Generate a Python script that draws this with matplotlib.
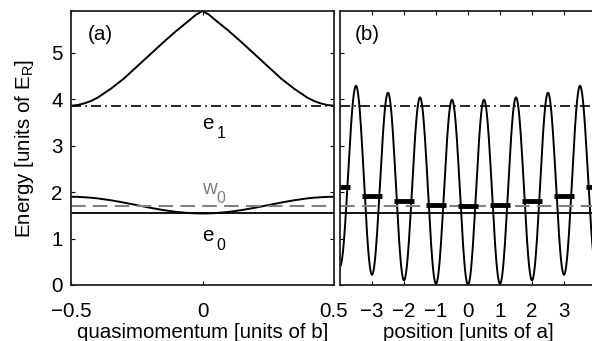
import matplotlib
matplotlib.use('Agg')
import matplotlib.pyplot as plt
import numpy as np

plt.rcParams['font.family'] = ['Liberation Sans', 'DejaVu Sans']
plt.rcParams['mathtext.fontset'] = 'custom'
plt.rcParams['mathtext.rm'] = 'Liberation Sans'
plt.rcParams['mathtext.it'] = 'Liberation Sans'
plt.rcParams['font.size'] = 14.8

# (a) band structure
q = [-0.5, -0.475, -0.45, -0.425, -0.4, -0.35, -0.3, -0.25, -0.2, -0.15, -0.1, -0.05, -0.025, 0.0,
     0.025, 0.05, 0.1, 0.15, 0.2, 0.25, 0.3, 0.35, 0.4, 0.425, 0.45, 0.475, 0.5]
band1 = [1.90, 1.898, 1.89, 1.88, 1.866, 1.826, 1.776, 1.72, 1.664, 1.614, 1.574, 1.549, 1.542, 1.54,
         1.542, 1.549, 1.574, 1.614, 1.664, 1.72, 1.776, 1.826, 1.866, 1.88, 1.89, 1.898, 1.90]
band2 = [3.86, 3.875, 3.91, 3.96, 4.03, 4.22, 4.44, 4.70, 4.96, 5.22, 5.47, 5.70, 5.82, 5.90,
         5.82, 5.70, 5.47, 5.22, 4.96, 4.70, 4.44, 4.22, 4.03, 3.96, 3.91, 3.875, 3.86]
e0 = 1.545
e1 = 3.86
w0 = 1.71

# (b) lattice potential extrema (wells at integers, barriers at half integers)
ext_x = [-4, -3.5, -3, -2.5, -2, -1.5, -1, -0.5, 0, 0.5, 1, 1.5, 2, 2.5, 3, 3.5, 4]
ext_v = [0.40, 4.29, 0.22, 4.14, 0.10, 4.04, 0.025, 3.99, 0.0, 3.99, 0.025, 4.04,
         0.10, 4.14, 0.22, 4.29, 0.40]
sites = [-4, -3, -2, -1, 0, 1, 2, 3, 4]
site_e = [2.10, 1.925, 1.80, 1.725, 1.70, 1.725, 1.80, 1.925, 2.10]
seg_half = 0.3

gray = '#808080'
dd = (6, 2.5, 1, 2.5)

fig = plt.figure(figsize=(5.92, 3.41), dpi=100)
W, H = 592, 341
ax1 = fig.add_axes([71 / W, 56 / H, 263 / W, 274 / H])
ax2 = fig.add_axes([340 / W, 56 / H, 256 / W, 274 / H])

ax1.plot(q, band1, color='k', lw=1.4)
ax1.plot(q, band2, color='k', lw=1.4)
ax1.axhline(e0, color='k', lw=1.3)
ax1.axhline(e1, color='k', lw=1.2, dashes=dd)
ax1.axhline(w0, color=gray, lw=1.5, dashes=(7, 3.5))
ax1.set_xlim(-0.5, 0.5)
ax1.set_ylim(0, 5.9)
ax1.set_xticks([-0.5, 0, 0.5])
ax1.set_xticklabels(['\u22120.5', '0', '0.5'])
ax1.set_yticks([0, 1, 2, 3, 4, 5])
ax1.set_xlabel('quasimomentum [units of b]', labelpad=2)
ax1.set_ylabel(r'Energy [units of E$_\mathregular{R}$]', labelpad=11)
ax1.text(0.065, 0.915, '(a)', transform=ax1.transAxes, va='center')


def sub_label(ax, x, y, main, sub, color='k'):
    ax.text(x, y, main, va='center', ha='left', color=color)
    ax.annotate(sub, (x, y), xytext=(14, -10), textcoords='offset pixels',
                va='center', ha='left', fontsize=11.5, color=color)


sub_label(ax1, 0.0, 3.48, 'e', '1')
sub_label(ax1, 0.0, 2.08, 'w', '0', color=gray)
sub_label(ax1, 0.0, 1.06, 'e', '0')

# potential built from the read extrema, sin^2-shaped between them
xs, vs = [], []
for i in range(len(ext_x) - 1):
    t = np.linspace(0, 1, 40)
    xs.append(ext_x[i] + (ext_x[i + 1] - ext_x[i]) * t)
    vs.append(ext_v[i] + (ext_v[i + 1] - ext_v[i]) * (1 - np.cos(np.pi * t)) / 2)
ax2.plot(np.concatenate(xs), np.concatenate(vs), color='k', lw=1.4)
ax2.axhline(e0, color='k', lw=1.3)
ax2.axhline(e1, color='k', lw=1.2, dashes=dd)
ax2.axhline(w0, color=gray, lw=1.5, dashes=(7, 3.5))
for s, e in zip(sites, site_e):
    ax2.plot([s - seg_half, s + seg_half], [e, e], color='k', lw=3.5, solid_capstyle='butt')
ax2.set_xlim(-4, 4)
ax2.set_ylim(0, 5.9)
ax2.set_xticks([-3, -2, -1, 0, 1, 2, 3])
ax2.set_xticklabels(['\u22123', '\u22122', '\u22121', '0', '1', '2', '3'])
ax2.set_yticks([0, 1, 2, 3, 4, 5])
ax2.set_yticklabels([])
ax2.set_xlabel('position [units of a]', labelpad=2)
ax2.text(0.059, 0.915, '(b)', transform=ax2.transAxes, va='center')

for ax in (ax1, ax2):
    ax.tick_params(direction='in', length=3, width=0.8, top=True, right=True)
    ax.tick_params(axis='x', pad=12)
    ax.tick_params(axis='y', pad=6)
    for sp in ax.spines.values():
        sp.set_linewidth(1.3)
        sp.set_color('#222222')

fig.savefig('out.png', dpi=100)
